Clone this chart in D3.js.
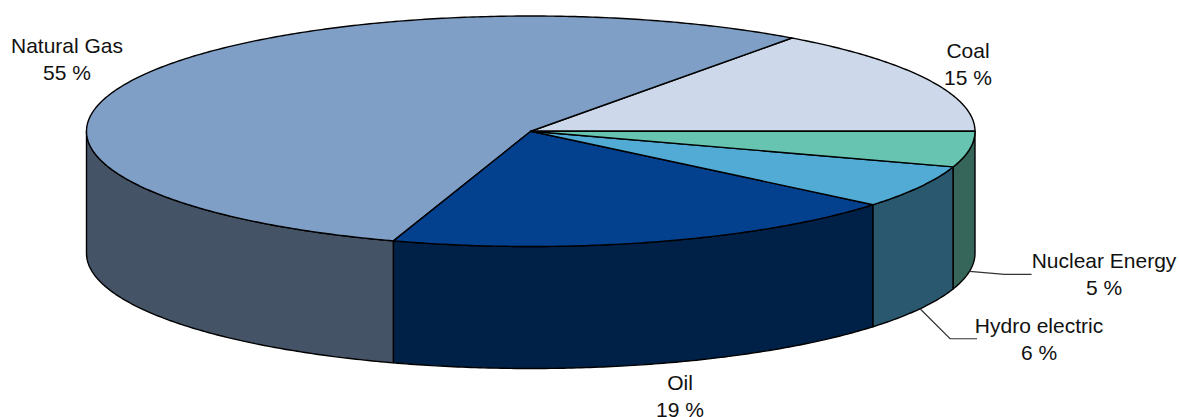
<!DOCTYPE html>
<html lang="en">

<head>
    <meta charset="utf-8">
    <title>Energy mix</title>
    <style>
        * {
            margin: 0;
            padding: 0;
        }

        body {
            background: #fff;
            overflow: hidden;
        }

        svg {
            display: block;
        }

        text {
            font-family: 'Liberation Sans', Arial, sans-serif;
            font-size: 21px;
            fill: #111;
            text-anchor: middle;
        }
    </style>
</head>

<body>
    <div id="chart"></div>
    <script src="https://d3js.org/d3.v7.min.js"></script>

    <script>
        var categories = ["Coal", "Natural Gas", "Oil", "Hydro electric", "Nuclear Energy"];
        var shares = [15, 55, 19, 6, 5];
        var topColors = ["#cdd9ea", "#7f9fc6", "#03408e", "#52abd5", "#66c4b0"];
        var sideColors = ["#66707e", "#445366", "#002147", "#2a586f", "#36655a"];

        var width = 1179,
            height = 417,
            depth = 122;

        // unit circle to the flattened disc
        var x = d3.scaleLinear().domain([-1, 1]).range([86.5, 975]);
        var y = d3.scaleLinear().domain([-1, 1]).range([246.5, 16]);

        // label anchors, one row per category: centre x, first baseline
        var labelX = [968, 67, 680, 1039, 1104];
        var labelY = [58, 53, 390, 333, 268];
        var lineGap = 27;

        var svg = d3.select("#chart")
            .append("svg")
            .attr("width", width)
            .attr("height", height);

        // slices run counter-clockwise from 3 o'clock
        var arcs = d3.pie().sort(null).startAngle(0).endAngle(2 * Math.PI)(shares);

        function rimPoints(from, to, drop) {
            var pts = [];
            var steps = Math.max(2, Math.ceil((to - from) / 0.01));
            for (var i = 0; i <= steps; i++) {
                var a = from + (to - from) * i / steps;
                pts.push([x(Math.cos(a)), y(Math.sin(a)) + drop]);
            }
            return pts;
        }

        var line = d3.line();

        // side walls, only the front half can be seen
        var front = arcs.filter(function (d) { return d.endAngle > Math.PI; });

        svg.append("g")
            .selectAll("path")
            .data(front)
            .enter()
            .append("path")
            .attr("d", function (d) {
                var from = Math.max(d.startAngle, Math.PI);
                var upper = rimPoints(from, d.endAngle, 0);
                var lower = rimPoints(from, d.endAngle, depth).reverse();
                return line(upper.concat(lower)) + "Z";
            })
            .style("fill", function (d) { return sideColors[d.index]; })
            .style("stroke", "#000")
            .style("stroke-width", "1.4")
            .style("stroke-linejoin", "round");

        // top of the disc
        svg.append("g")
            .selectAll("path")
            .data(arcs)
            .enter()
            .append("path")
            .attr("d", function (d) {
                return line([[x(0), y(0)]].concat(rimPoints(d.startAngle, d.endAngle, 0))) + "Z";
            })
            .style("fill", function (d) { return topColors[d.index]; })
            .style("stroke", "#000")
            .style("stroke-width", "1.4")
            .style("stroke-linejoin", "round");

        // leader lines for the two thin slices
        var leaders = [
            { index: 3, elbow: [30, 30], run: 27 },
            { index: 4, elbow: [35, 3], run: 27 }
        ];

        svg.append("g")
            .selectAll("path")
            .data(leaders)
            .enter()
            .append("path")
            .attr("d", function (l) {
                var d = arcs[l.index];
                var mid = (d.startAngle + d.endAngle) / 2;
                var px = x(Math.cos(mid)),
                    py = y(Math.sin(mid)) + depth;
                var ex = px + l.elbow[0],
                    ey = py + l.elbow[1];
                return line([[px, py], [ex, ey], [ex + l.run, ey]]);
            })
            .style("fill", "none")
            .style("stroke", "#333")
            .style("stroke-width", "1.2");

        var labels = svg.append("g")
            .selectAll("text")
            .data(categories)
            .enter()
            .append("text")
            .attr("x", function (d, i) { return labelX[i]; })
            .attr("y", function (d, i) { return labelY[i]; });

        labels.append("tspan")
            .text(function (d) { return d; });

        labels.append("tspan")
            .attr("x", function (d, i) { return labelX[i]; })
            .attr("dy", lineGap)
            .text(function (d, i) { return shares[i] + " %"; });
    </script>
</body>

</html>
